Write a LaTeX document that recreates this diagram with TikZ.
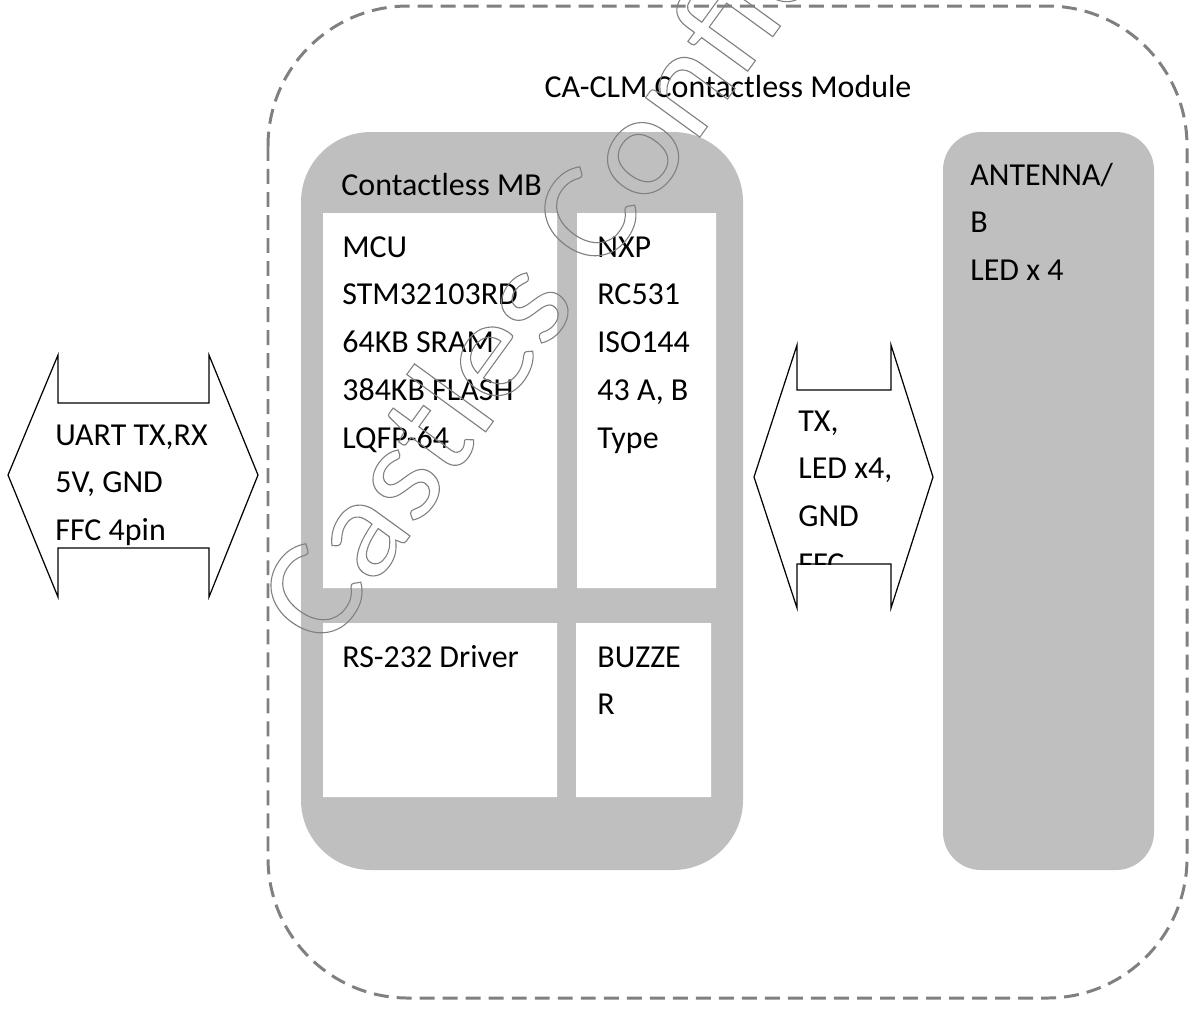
\documentclass[tikz,border=0pt]{standalone}
\usepackage{fontspec}
\setmainfont{Carlito}
\definecolor{boardgray}{HTML}{BFBFBF}
\definecolor{dashgray}{HTML}{808080}
% text lines, first baseline on the anchor
\newcommand{\lines}[1]{\begin{tabular}[t]{@{}l@{}}#1\end{tabular}}
% outlined text for the stamp
\newcommand{\hollow}[1]{\special{pdf:literal direct 0.6 w 1 Tr}#1\special{pdf:literal direct 0 Tr}}
\begin{document}
\begin{tikzpicture}[x=0.02cm,y=-0.02cm,
module-line/.style = {draw=dashgray, line width=1.7pt, dash pattern=on 8.5pt off 4.6pt, rounded corners=2.8cm},
board/.style = {fill=boardgray},
part/.style = {fill=white},
link-arrow/.style = {draw=black, line width=0.7pt, line join=miter},
label/.style = {anchor=base west, inner sep=0pt, font=\fontsize{18.2}{27.3}\selectfont},
stamp/.style = {anchor=base west, inner sep=0pt, rotate=54, xscale=1.08, text=dashgray, font=\fontsize{80}{90}\selectfont}
]
\useasboundingbox (0,0) rectangle (1192,1012);
\draw[module-line] (268,6) rectangle (1187,998);
\node[label, anchor=base] (module) at (728,97) {CA-CLM Contactless Module};
% main board
\fill[board, rounded corners=1.4cm] (301,132) rectangle (743,870);
\fill[part]
    (323,213) rectangle (557,588)
    (577,213) rectangle (716,588)
    (323,623) rectangle (557,797)
    (576,623) rectangle (711,797);
\node[label] (board) at (341,195) {Contactless MB};
\node[label] (mcu) at (342,257) {\lines{MCU\\STM32103RD\\64KB SRAM\\384KB FLASH\\LQFP-64}};
\node[label] (nxp) at (597,257) {\lines{NXP\\RC531\\ISO144\\43 A, B\\Type}};
\node[label] (driver) at (342,667) {RS-232 Driver};
\node[label] (buzzer) at (597,667) {\lines{BUZZE\\R}};
% antenna board
\fill[board, rounded corners=0.76cm] (943,132) rectangle (1154,870);
\node[label] (antenna) at (970,185) {\lines{ANTENNA/\\B\\LED x 4}};
% host link
\draw[link-arrow] (58,355) -- (58,403) -- (209,403) -- (209,355) -- (258,475)
    -- (209,597) -- (209,548) -- (58,548) -- (58,597) -- (8,475) -- cycle;
\begin{scope}
\clip (8,403) rectangle (258,548);
\node[label] (uart) at (55,445) {\lines{UART TX,RX\\5V, GND\\FFC 4pin}};
\end{scope}
% antenna link
\draw[link-arrow] (797,345) -- (797,390) -- (891,390) -- (891,345) -- (933,477)
    -- (891,608) -- (891,564) -- (797,564) -- (797,608) -- (754,477) -- cycle;
\begin{scope}
\clip (754,390) rectangle (933,564);
\node[label] (txled) at (798,431) {\lines{TX,\\LED x4,\\GND\\FFC}};
\end{scope}
% stamp
\begin{scope}
\clip (0,0) rectangle (1192,1012);
\node[stamp] (stamp) at (325,653) {\hollow{Castles Confidential}};
\end{scope}
\end{tikzpicture}
\end{document}
